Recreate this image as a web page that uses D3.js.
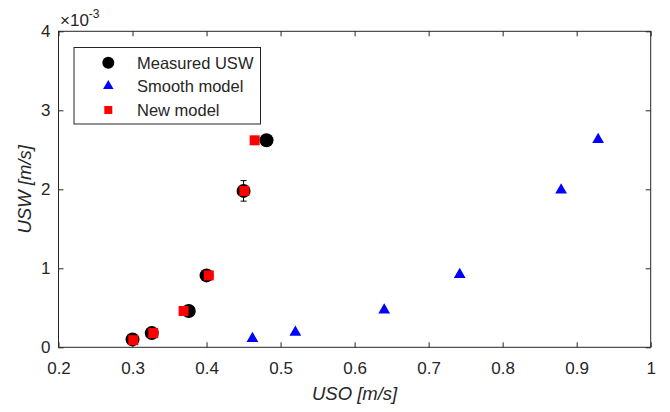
<!DOCTYPE html>
<html><head><meta charset="utf-8">
<script src="https://cdn.jsdelivr.net/npm/d3@7"></script>
<style>
html,body{margin:0;padding:0;background:#fff;}
text{font-family:"Liberation Sans",Arial,Helvetica,sans-serif;fill:#262626;}
</style></head>
<body>
<svg id="chart" width="670" height="412"></svg>
<script>
// USO [m/s] values
const measuredX = [0.300, 0.326, 0.376, 0.400, 0.450, 0.481];
const measuredY = [0.10, 0.18, 0.46, 0.91, 1.98, 2.62]; // ×10^-3 m/s
const measuredErr = [0.03, 0.03, 0.03, 0.04, 0.13, 0.05];
const smoothX = [0.462, 0.520, 0.640, 0.742, 0.879, 0.929];
const smoothY = [0.11, 0.19, 0.47, 0.92, 1.99, 2.63];
const newX = [0.301, 0.328, 0.369, 0.403, 0.451, 0.465];
const newY = [0.09, 0.18, 0.46, 0.91, 1.98, 2.62];
const xTicks = [0.2, 0.3, 0.4, 0.5, 0.6, 0.7, 0.8, 0.9, 1];
const yTicks = [0, 1, 2, 3, 4];
const legendLabels = ["Measured USW", "Smooth model", "New model"];

const svg = d3.select("#chart");
const L = 58.5, R = 650.7, T = 31.3, B = 347.3;
const x = d3.scaleLinear().domain([0.2, 1]).range([L, R]);
const y = d3.scaleLinear().domain([0, 4]).range([B, T]);
const axisColor = "#262626";

const g = svg.append("g");
g.append("rect").attr("x", L).attr("y", T).attr("width", R - L).attr("height", B - T)
  .attr("fill", "none").attr("stroke", axisColor).attr("stroke-width", 1);

const fmt = d => d === 1 ? "1" : d3.format(".1f")(d);
const axB = g.append("g").attr("transform", `translate(0,${B})`)
  .call(d3.axisBottom(x).tickValues(xTicks).tickSize(-5).tickPadding(15).tickFormat(fmt));
const axT = g.append("g").attr("transform", `translate(0,${T})`)
  .call(d3.axisTop(x).tickValues(xTicks).tickSize(-5).tickFormat(""));
const axL = g.append("g").attr("transform", `translate(${L},0)`)
  .call(d3.axisLeft(y).tickValues(yTicks).tickSize(-5).tickPadding(8).tickFormat(d3.format("d")));
const axR = g.append("g").attr("transform", `translate(${R},0)`)
  .call(d3.axisRight(y).tickValues(yTicks).tickSize(-5).tickFormat(""));
[axB, axT, axL, axR].forEach(a => {
  a.select(".domain").remove();
  a.selectAll("line").attr("stroke", axisColor);
  a.selectAll("text").style("font-size", "17px").attr("fill", axisColor)
   .style("font-family", '"Liberation Sans",Arial,sans-serif');
});

const ex = svg.append("text").attr("x", 60).attr("y", 26).style("font-size", "17px");
ex.append("tspan").text("\u00d710");
ex.append("tspan").attr("dy", -8).style("font-size", "12px").text("-3");

svg.append("text").attr("x", (L + R) / 2).attr("y", 400).attr("text-anchor", "middle")
  .style("font-size", "18.5px").style("font-style", "italic").text("USO [m/s]");
svg.append("text").attr("transform", `translate(31,${(T + B) / 2}) rotate(-90)`)
  .attr("text-anchor", "middle").style("font-size", "18.5px").style("font-style", "italic")
  .text("USW [m/s]");

const measured = measuredX.map((v, i) => ({x: v, y: measuredY[i], e: measuredErr[i]}));
const smooth = smoothX.map((v, i) => ({x: v, y: smoothY[i]}));
const newer = newX.map((v, i) => ({x: v, y: newY[i]}));

const eb = svg.append("g").attr("stroke", "#000").attr("stroke-width", 1);
measured.forEach(d => {
  eb.append("line").attr("x1", x(d.x)).attr("x2", x(d.x)).attr("y1", y(d.y - d.e)).attr("y2", y(d.y + d.e));
  [d.y - d.e, d.y + d.e].forEach(v => eb.append("line").attr("x1", x(d.x) - 3).attr("x2", x(d.x) + 3).attr("y1", y(v)).attr("y2", y(v)));
});

svg.append("g").selectAll("circle").data(measured).join("circle")
  .attr("cx", d => x(d.x)).attr("cy", d => y(d.y)).attr("r", 7).attr("fill", "#000");

const tri = d3.symbol().type(d3.symbolTriangle).size(60);
svg.append("g").selectAll("path").data(smooth).join("path")
  .attr("d", tri).attr("transform", d => `translate(${x(d.x)},${y(d.y)})`).attr("fill", "#0000ff");

svg.append("g").selectAll("rect").data(newer).join("rect")
  .attr("x", d => x(d.x) - 5).attr("y", d => y(d.y) - 5).attr("width", 10).attr("height", 10)
  .attr("fill", "#ff0000");

const lg = svg.append("g");
lg.append("rect").attr("x", 74).attr("y", 47.5).attr("width", 186.5).attr("height", 76.5)
  .attr("fill", "#fff").attr("stroke", axisColor).attr("stroke-width", 1);
const rowsY = [62.7, 86, 110];
lg.append("circle").attr("cx", 108.3).attr("cy", rowsY[0]).attr("r", 6).attr("fill", "#000");
lg.append("path").attr("d", d3.symbol().type(d3.symbolTriangle).size(48)())
  .attr("transform", `translate(108.3,${rowsY[1]})`).attr("fill", "#0000ff");
lg.append("rect").attr("x", 104.3).attr("y", rowsY[2] - 4).attr("width", 8).attr("height", 8).attr("fill", "#ff0000");
legendLabels.forEach((t, i) => lg.append("text").attr("x", 137).attr("y", rowsY[i] + 6)
  .style("font-size", "16.5px").text(t));
</script>
</body></html>
